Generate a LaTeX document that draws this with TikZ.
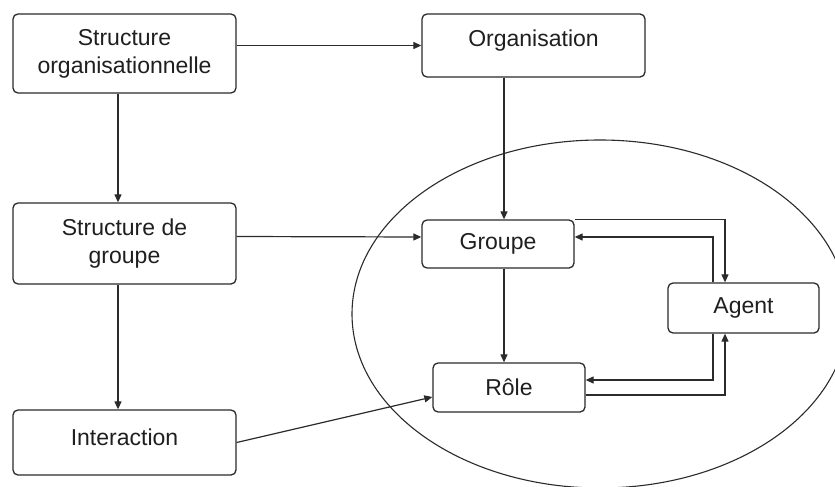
\documentclass[tikz,border=0pt]{standalone}
\usepackage{fontspec}
\setmainfont{Liberation Sans}
\usetikzlibrary{arrows.meta}
\definecolor{ln}{HTML}{2B2B2B}
\begin{document}
\begin{tikzpicture}[x=1pt,y=-1pt,
  box/.style={draw=ln,line width=1.3pt,rounded corners=5pt,fill=white,
    font=\fontsize{23}{28}\selectfont,text=black!88,align=center,inner sep=0pt},
  arr/.style={draw=ln,line width=1.2pt,-{Triangle[length=8pt,width=7pt]}},
  ln/.style={draw=ln,line width=1.2pt}]
\useasboundingbox (0,0) rectangle (835,487);
\fill[white] (0,0) rectangle (835,487);
\draw[ln,line width=1.1pt] (600,314) ellipse [x radius=248,y radius=174];
\node[box,minimum width=223pt,minimum height=79pt] (A) at (124.5,53.5) {Structure\\organisationnelle};
\node[box,minimum width=223pt,minimum height=63pt,text height=16pt,text depth=14pt] (O) at (533.5,45.5) {Organisation};
\node[box,minimum width=223pt,minimum height=81pt] (S) at (124.5,243.5) {Structure de\\groupe};
\node[box,minimum width=223pt,minimum height=65pt,text height=16.5pt,text depth=10pt] (I) at (124.5,442.5) {Interaction};
\node[box,minimum width=152pt,minimum height=48pt] (G) at (498,244) {Groupe};
\node[box,minimum width=151pt,minimum height=50pt] (Ag) at (743.5,308) {Agent};
\node[box,minimum width=152pt,minimum height=49pt] (R) at (509,387.5) {Rôle};
\coordinate (cx) at (504,0);
\coordinate (lx) at (118,0);
\coordinate (ax1) at (713,0);
\coordinate (ax2) at (725,0);
\draw[arr] (A.east |- O.west) -- (O.west);
\draw[arr] (A.south -| lx) -- (S.north -| lx);
\draw[arr] (S.south -| lx) -- (I.north -| lx);
\draw[arr] ([yshift=7pt]S.east) -- ([yshift=7pt]G.west);
\draw[arr] (O.south -| cx) -- (G.north -| cx);
\draw[arr] (G.south -| cx) -- (R.north -| cx);
\draw[arr] (I.east) -- ([yshift=-9.5pt]R.west);
\draw[arr] (G.north east) -- (G.north east -| ax2) -- (Ag.north -| ax2);
\draw[arr] (Ag.north -| ax1) -- ([yshift=7pt]G.east -| ax1) -- ([yshift=7pt]G.east);
\draw[arr] (Ag.south -| ax1) -- ([yshift=7.5pt]R.east -| ax1) -- ([yshift=7.5pt]R.east);
\draw[arr] ([yshift=-7.5pt]R.east) -- ([yshift=-7.5pt]R.east -| ax2) -- (Ag.south -| ax2);
\end{tikzpicture}
\end{document}
